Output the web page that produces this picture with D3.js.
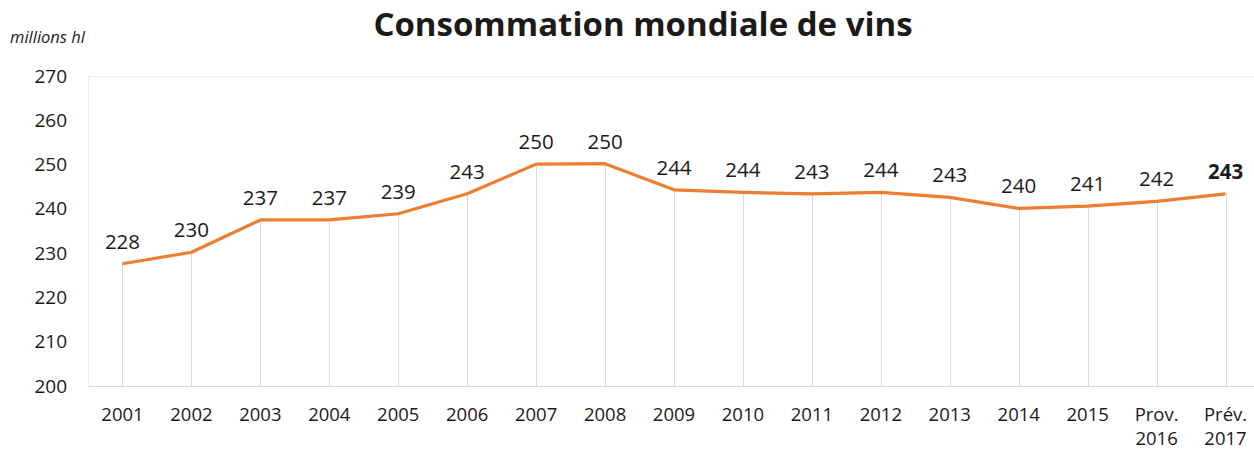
<!DOCTYPE html>
<html>
<head>
<meta charset="utf-8">
<script src="https://cdn.jsdelivr.net/npm/d3@7"></script>
<style>
  body { margin: 0; background: #fff; }
  text { font-family: "Open Sans", sans-serif; fill: #1a1a1a; }
</style>
</head>
<body>
<div id="chart"></div>
<script>
// données
var years = ["2001", "2002", "2003", "2004", "2005", "2006", "2007", "2008", "2009",
  "2010", "2011", "2012", "2013", "2014", "2015", "Prov.\n2016", "Prév.\n2017"];
var values = [227.6, 230.2, 237.5, 237.5, 238.9, 243.4, 250.1, 250.2, 244.3,
  243.7, 243.4, 243.7, 242.6, 240.1, 240.6, 241.7, 243.4];
var labels = ["228", "230", "237", "237", "239", "243", "250", "250", "244",
  "244", "243", "244", "243", "240", "241", "242", "243"];
var yTicks = [200, 210, 220, 230, 240, 250, 260, 270];

var width = 1254, height = 450;
var margin = { top: 76, right: -6, bottom: 64, left: 88 };

var svg = d3.select("#chart").append("svg")
  .attr("width", width)
  .attr("height", height);

var x = d3.scaleBand()
  .domain(years)
  .range([margin.left, width - margin.right]);

var y = d3.scaleLinear()
  .domain([200, 270])
  .range([height - margin.bottom, margin.top]);

// titre
svg.append("text")
  .attr("x", 643)
  .attr("y", 36)
  .attr("text-anchor", "middle")
  .style("font-size", "33px")
  .style("font-weight", "bold")
  .text("Consommation mondiale de vins");

svg.append("text")
  .attr("x", 10)
  .attr("y", 43)
  .style("font-size", "16.5px")
  .style("font-style", "italic")
  .text("millions hl");

// cadre de la zone de tracé
svg.append("rect")
  .attr("x", margin.left + 0.5)
  .attr("y", y(270) + 0.5)
  .attr("width", width - margin.right - margin.left)
  .attr("height", y(200) - y(270))
  .attr("fill", "none")
  .attr("stroke", "#ededed");

// lignes de projection
svg.selectAll(".drop")
  .data(years)
  .join("line")
  .attr("class", "drop")
  .attr("x1", d => Math.round(x(d) + x.bandwidth() / 2) + 0.5)
  .attr("x2", d => Math.round(x(d) + x.bandwidth() / 2) + 0.5)
  .attr("y1", (d, i) => y(values[i]))
  .attr("y2", y(200))
  .attr("stroke", "#d9d9d9")
  .attr("stroke-width", 1);

// axe horizontal
svg.append("line")
  .attr("x1", margin.left)
  .attr("x2", width)
  .attr("y1", Math.round(y(200)) + 0.5)
  .attr("y2", Math.round(y(200)) + 0.5)
  .attr("stroke", "#d9d9d9");

// axe vertical (étiquettes seulement)
var yAxis = svg.append("g")
  .attr("transform", `translate(${margin.left},0)`)
  .call(d3.axisLeft(y).tickValues(yTicks).tickSize(0).tickPadding(21));
yAxis.select(".domain").remove();
yAxis.selectAll("text")
  .style("font-family", "'Open Sans', sans-serif")
  .style("font-size", "19px")
  .attr("fill", "#1a1a1a");

// étiquettes des catégories
var xl = svg.selectAll(".xlab")
  .data(years)
  .join("text")
  .attr("class", "xlab")
  .attr("text-anchor", "middle")
  .style("font-size", "18.5px")
  .attr("transform", d => `translate(${x(d) + x.bandwidth() / 2},${y(200) + 35})`);
xl.selectAll("tspan")
  .data(d => d.split("\n"))
  .join("tspan")
  .attr("x", 0)
  .attr("dy", (d, i) => i === 0 ? 0 : "1.3em")
  .text(d => d);

// courbe
var line = d3.line()
  .x((d, i) => x(years[i]) + x.bandwidth() / 2)
  .y(d => y(d));

svg.append("path")
  .datum(values)
  .attr("d", line)
  .attr("fill", "none")
  .attr("stroke", "#ed7d31")
  .attr("stroke-width", 3.2)
  .attr("stroke-linejoin", "round");

// valeurs
svg.selectAll(".vlab")
  .data(values)
  .join("text")
  .attr("class", "vlab")
  .attr("text-anchor", "middle")
  .attr("x", (d, i) => x(years[i]) + x.bandwidth() / 2)
  .attr("y", d => y(d) - 15)
  .style("font-size", "20.5px")
  .style("font-weight", (d, i) => i === values.length - 1 ? "bold" : null)
  .text((d, i) => labels[i]);
</script>
</body>
</html>
